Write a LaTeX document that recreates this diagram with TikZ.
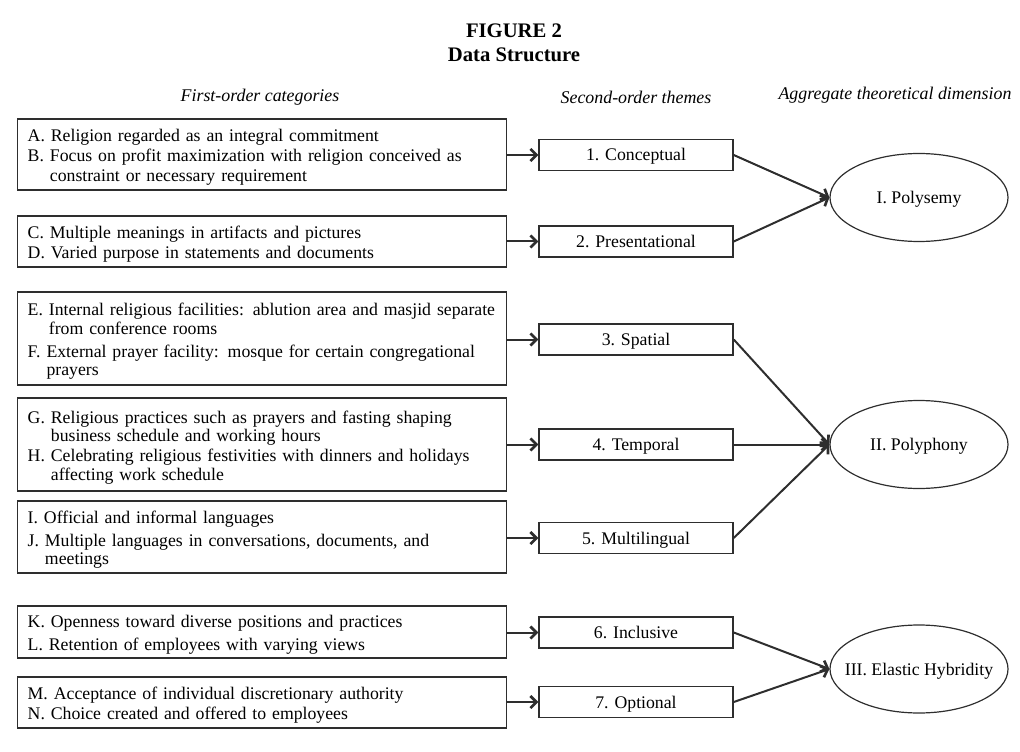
\documentclass[tikz,border=0pt]{standalone}
\usepackage{fontspec}
\setmainfont{Liberation Serif}
\usetikzlibrary{arrows.meta,shapes.geometric}
\definecolor{ink}{HTML}{2E2E2E}
\newcommand\catlines[1]{\raisebox{-2.6pt}[\height][\depth]{\begin{tabular}{@{}l@{}}#1\end{tabular}}}
\begin{document}
\begin{tikzpicture}[x=0.75pt,y=-0.75pt,
  catbox/.style={draw=ink,line width=1.1pt,anchor=west,inner xsep=7.5pt,inner ysep=0pt,
     text width={469*0.75pt},align=left,minimum height={#1*0.75pt},
     font=\fontsize{13.3}{13.7}\selectfont},
  themebox/.style={draw=ink,line width=1.1pt,minimum width={194*0.75pt},minimum height={31*0.75pt},
     inner sep=0pt,text height=11pt,text depth=2pt,font=\fontsize{13.3}{14}\selectfont},
  dimell/.style={draw=ink,line width=0.9pt,ellipse,minimum width={178*0.75pt},minimum height={88*0.75pt},
     inner sep=0pt},
  dimlabel/.style={inner sep=0pt,yshift=-1.5pt,font=\fontsize{13.3}{14}\selectfont},
  head/.style={font=\fontsize{13.4}{14}\selectfont\itshape},
  conn/.style={draw=ink,line width=1.5pt,-{Straight Barb[length=4.5pt,width=9pt,line width=2pt]}}
]
\useasboundingbox (0,0) rectangle (1020,752);
\node[font=\fontsize{15.5}{17}\selectfont\bfseries] (t1) at (514,31) {FIGURE 2};
\node[font=\fontsize{15.5}{17}\selectfont\bfseries] (t2) at (514,55) {Data Structure};
\node[head] (h1) at (260,97) {First-order categories};
\node[head] (h2) at (636,97) {Second-order themes};
\node[head] (h3) at (895,95) {Aggregate theoretical dimension};

% first-order categories
\node[catbox=71] (ab) at (17,154.5) {\catlines{
A. Religion regarded as an integral commitment\\[1.3pt]
B. Focus on profit maximization with religion conceived as\\[1.3pt]
\hphantom{B. }constraint or necessary requirement}};
\node[catbox=51] (cd) at (17,241.5) {\catlines{
C. Multiple meanings in artifacts and pictures\\[1.3pt]
D. Varied purpose in statements and documents}};
\node[catbox=93] (ef) at (17,338.5) {\catlines{
E. Internal religious facilities: ablution area and masjid separate\\
\hphantom{E. }from conference rooms\\[3.5pt]
F. External prayer facility: mosque for certain congregational\\
\hphantom{F. }prayers}};
\node[catbox=93] (gh) at (17,444.5) {\catlines{
G. Religious practices such as prayers and fasting shaping\\
\hphantom{G. }business schedule and working hours\\[1.6pt]
H. Celebrating religious festivities with dinners and holidays\\
\hphantom{H. }affecting work schedule}};
\node[catbox=72] (ij) at (17,537) {\catlines{
I. Official and informal languages\\[3.5pt]
J. Multiple languages in conversations, documents, and\\
\hphantom{J. }meetings}};
\node[catbox=52] (kl) at (17,632) {\catlines{
K. Openness toward diverse positions and practices\\[3.5pt]
L. Retention of employees with varying views}};
\node[catbox=51] (mn) at (17,702.5) {\catlines{
M. Acceptance of individual discretionary authority\\[1.3pt]
N. Choice created and offered to employees}};

% second-order themes
\node[themebox] (c1) at (636,155) {1. Conceptual};
\node[themebox] (c2) at (636,241.5) {2. Presentational};
\node[themebox] (c3) at (636,339.5) {3. Spatial};
\node[themebox] (c4) at (636,444.5) {4. Temporal};
\node[themebox] (c5) at (636,538) {5. Multilingual};
\node[themebox] (c6) at (636,632.5) {6. Inclusive};
\node[themebox] (c7) at (636,702) {7. Optional};

% aggregate dimensions
\node[dimell] (e1) at (919,197.5) {};
\node[dimell] (e2) at (919,444.5) {};
\node[dimell] (e3) at (919,669) {};
\node[dimlabel] (l1) at (e1.center) {I. Polysemy};
\node[dimlabel] (l2) at (e2.center) {II. Polyphony};
\node[dimlabel] (l3) at (e3.center) {III. Elastic Hybridity};

% connectors
\foreach \b/\c in {ab/c1,cd/c2,ef/c3,gh/c4,ij/c5,kl/c6,mn/c7}
  \draw[conn] (\c.west -| \b.east) -- (\c.west);
\foreach \c/\e in {c1/e1,c2/e1,c3/e2,c4/e2,c5/e2,c6/e3,c7/e3}
  \draw[conn] (\c.east) -- (\e.west);
\end{tikzpicture}
\end{document}
